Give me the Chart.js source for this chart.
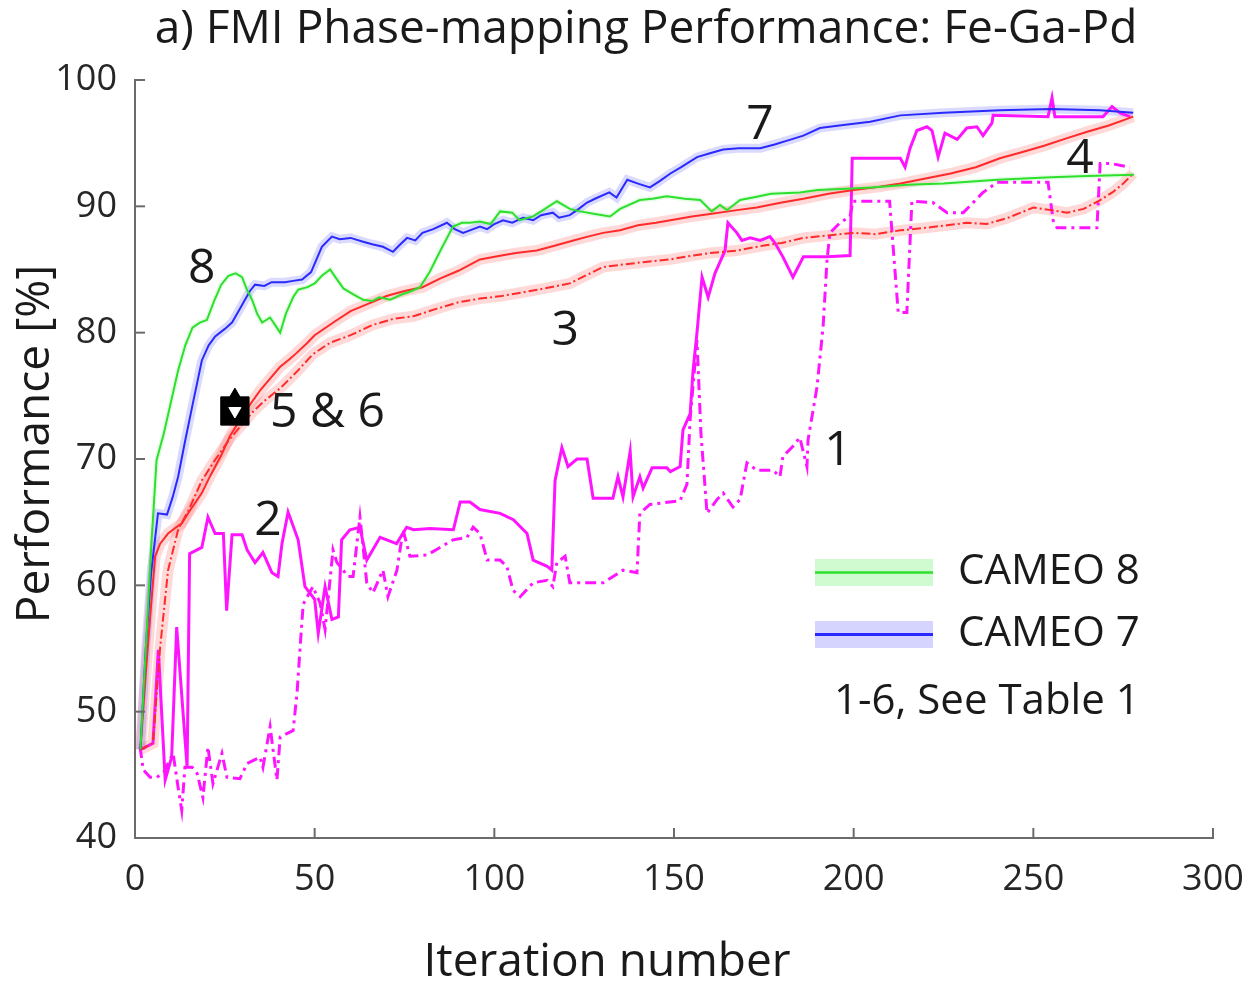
<!DOCTYPE html>
<html>
<head>
<meta charset="utf-8">
<script src="https://cdn.jsdelivr.net/npm/chart.js@4.4.1/dist/chart.umd.min.js"></script>
<style>
  body { margin: 0; background: #fff; }
  #wrap { width: 1251px; height: 983px; position: relative; }
</style>
</head>
<body>
<div id="wrap"><canvas id="lineChart"></canvas></div>
<script>
// values: [iteration, performance %]
var cameo8 = [[1.5,47],[3,55],[4.5,63],[6,69.9],[8,72],[10,74.5],[12,77],[14,79],[16,80.4],[18,80.8],[20,81],[22,82.5],[24,83.8],[26,84.5],[28,84.7],[29.8,84.4],[31,83.5],[32.6,82.6],[34,81.5],[35.4,80.8],[37.6,81.2],[39,80.6],[40.4,80],[42,81.5],[44,82.8],[45.4,83.4],[48,83.6],[50,83.9],[52,84.5],[54.3,85],[56,84.3],[58,83.5],[61,83],[63.5,82.6],[66,82.5],[68,82.8],[71,82.6],[74,83],[77,83.3],[79.3,83.6],[82,84.8],[85,86.5],[88.5,88.4],[91,88.7],[93.2,88.7],[96,88.8],[99,88.6],[101.6,89.6],[105,89.5],[107,88.9],[110.8,89.2],[113,89.6],[117.4,90.4],[121,89.8],[123.9,89.6],[128,89.4],[132.2,89.2],[135,89.8],[140.5,90.5],[144,90.6],[148,90.8],[153,90.6],[157.3,90.5],[160.5,89.6],[162.8,90.1],[164.8,89.7],[168.4,90.5],[172,90.7],[177,91],[185,91.1],[190,91.3],[198,91.4],[205,91.5],[215,91.7],[225,91.8],[240,92.1],[255,92.3],[265,92.4],[278,92.5]];

var cameo7 = [[1.5,47],[3,55],[4.5,61],[6.4,65.7],[8.9,65.6],[10.5,67],[12,68.6],[14,71.5],[16.1,74.4],[18.6,77.8],[20.5,79],[22.3,79.7],[25,80.3],[27,80.8],[29,81.8],[30.6,82.6],[32,83.3],[33.4,83.8],[36,83.7],[38,84],[41.7,84],[44,84.1],[46.5,84.2],[49,84.8],[52,86.8],[54.8,87.6],[57,87.4],[60,87.5],[63.5,87.2],[66,87],[69,86.8],[71.8,86.4],[73.5,86.9],[75.7,87.5],[78,87.3],[80,87.9],[83,88.2],[86.8,88.7],[89,88.2],[91.3,87.9],[93.2,88.1],[96,88.4],[98,88.2],[100,88.6],[102.4,88.9],[105,88.7],[108,89.1],[110.8,88.9],[113,89.3],[116.3,89.5],[118,89.1],[121,89.3],[123.5,89.8],[125.8,90.3],[128,90.6],[132,91.1],[134,90.7],[137,92.1],[140,91.8],[143.3,91.5],[146,92],[149,92.6],[152,93.1],[156.4,93.9],[160,94.2],[163.7,94.5],[168,94.6],[174,94.6],[178,94.9],[181.5,95.2],[186,95.6],[190.6,96.2],[196,96.4],[204.6,96.7],[213,97.2],[225,97.4],[240.7,97.6],[255,97.7],[268.6,97.6],[277.8,97.4]];

var run4 = [[1.5,47],[3,53],[4.5,58.5],[5.6,62.3],[7,63.3],[9.2,64.1],[11,64.5],[13,64.9],[15,65.8],[18.6,67.3],[21,68.7],[24,70.3],[26.4,71.8],[29,73],[32,74.3],[35,75.5],[38,76.5],[40.4,77.3],[43,77.9],[45,78.4],[48,79.2],[50,79.8],[55.7,80.9],[60,81.7],[65,82.3],[70,82.9],[75,83.3],[80,83.6],[85,84.3],[90,84.9],[96,85.8],[102,86.1],[106,86.3],[111.8,86.5],[117,86.9],[122,87.3],[126,87.6],[130.3,87.9],[135,88.1],[140,88.5],[145,88.7],[149,88.9],[155,89.2],[160,89.4],[167.5,89.7],[173,89.9],[180,90.3],[186,90.6],[193,91],[200,91.3],[206,91.5],[213,91.8],[220,92.2],[227,92.6],[234,93.1],[240.7,93.8],[247,94.3],[253,94.8],[259.4,95.4],[265,95.9],[271,96.4],[277.8,97.1]];

var run3 = [[1.5,47],[5,47.5],[7,55.1],[9.2,61.2],[12,64.4],[15,66],[18.6,68.3],[22,69.8],[26.4,71.6],[30.6,73],[33,73.8],[36,74.6],[40.4,75.6],[45,76.9],[49.5,78.3],[54.3,79.2],[60,79.8],[66,80.6],[72,81.1],[77.5,81.3],[84,81.9],[90,82.4],[96,82.7],[102,82.9],[108,83.2],[114,83.5],[121,83.9],[126,84.6],[130.3,85.2],[136,85.4],[142,85.6],[149,85.8],[155,86.1],[160,86.3],[167.5,86.5],[175,86.9],[180,87.1],[186,87.5],[193,87.7],[200,87.9],[206,87.8],[213,88.1],[220,88.3],[226,88.5],[231.5,88.7],[237,88.6],[243,89.1],[250,89.9],[255,89.7],[259.4,89.5],[264,89.8],[268.6,90.5],[272,91.1],[275,91.8],[277.8,92.6]];

var run2 = [[1.5,47],[5,47.5],[6.5,54.9],[8.4,44.6],[10.2,46.4],[11.6,56.7],[14.5,45.6],[15.2,62.5],[18.6,63],[20.3,65.4],[22.3,64.1],[24.6,64.1],[25.5,58],[27,64],[29.8,64],[31.2,62.8],[33.4,61.8],[35.6,62.6],[38.1,61],[39.8,60.7],[40.9,63.3],[42.6,65.8],[45.4,63.6],[47.3,59.9],[50,58.9],[51,56.2],[52.9,59.9],[54.8,57.3],[56.6,57.5],[57.5,63.6],[59.8,64.4],[62.6,64.6],[64.5,62],[68.2,63.8],[72.8,63.3],[75.6,64.6],[77.5,64.4],[82.1,64.5],[88.6,64.4],[90.5,66.6],[93.2,66.6],[96,66],[101.6,65.7],[105.3,65.2],[109.1,64.1],[110.8,62],[114.7,61.5],[116,61.2],[116.9,68.3],[118.8,70.9],[120.5,69.4],[123,70],[125.8,70],[127.5,66.9],[133,66.9],[134.4,68.6],[135.8,67],[137.8,70.6],[138.6,67],[140.5,68.6],[141.4,67.7],[143.9,69.3],[148,69.3],[149,69],[151.7,69.4],[152.5,72.3],[154.5,73.6],[155.3,77],[156.4,80],[157.8,84.4],[159.5,82.8],[161.4,84.7],[164.2,86.5],[165,88.7],[167.5,87.9],[168.9,87.3],[171.2,87.5],[174,87.3],[176.7,87.6],[178.1,87.1],[180.3,86],[183.1,84.4],[186,86],[188.7,86],[192.6,86],[199,86.1],[199.6,93.8],[213,93.8],[214.3,93.1],[215.7,94.6],[217.6,96],[220.4,96.3],[221.8,96],[223.5,93.9],[225.4,95.8],[228.8,95.3],[231.5,96.2],[234.3,96.3],[236,95.6],[238.5,96.6],[238.8,97.2],[254.1,97.1],[255.2,98.6],[256,97.1],[269.4,97.1],[271.9,97.9],[274.1,97.4],[276.9,97.1]];

var run1 = [[1.4,47.2],[2.3,45.4],[4.2,44.8],[6.1,44.8],[8,45.2],[10.6,46.7],[12,44],[13,42.2],[13.9,45.6],[15.9,45.6],[17.3,45.1],[18.9,43.2],[20.3,47.2],[21.7,44.3],[24.2,46.7],[25.6,44.8],[29.2,44.7],[31.2,45.9],[34.8,46.4],[35.6,45.6],[37.6,48.8],[39.5,44.6],[40.4,48],[44,48.5],[45.1,51.5],[45.9,54.9],[46.8,58.5],[49.5,59.9],[51.5,58.6],[52.9,56.5],[55.1,62.8],[56.2,61.8],[59.3,60.7],[60.7,60.7],[62.6,65.4],[63.5,63],[64.5,60.2],[66.2,59.4],[69,61.2],[70.4,59.1],[72.9,61.2],[74.6,64.4],[76.5,62.3],[81.3,62.4],[84.9,63],[88.5,63.6],[92.4,63.8],[94.1,64.6],[96,64.1],[98,62],[101.6,62],[103.5,61.5],[105.2,59.6],[107.2,59.1],[110.8,60.2],[114.7,60.4],[116.3,59.9],[117.4,61.8],[119.7,62.3],[121,60.2],[130.3,60.2],[135.8,61.2],[139.7,61],[140.5,65.7],[143.3,66.4],[151.7,66.7],[153.6,68],[154.5,73.2],[156.4,79.4],[157.5,72],[159.2,65.7],[162,66.8],[163.7,67.3],[166.4,66.2],[168.4,66.8],[170.3,69.7],[173.1,69.1],[177.6,69.1],[179.5,68.6],[180.3,70.2],[183.1,71],[185,71.7],[187,69.4],[187.3,71.5],[189.8,75.7],[191.5,80.5],[192.6,85.8],[193.4,87.9],[196.2,88.7],[199,89.2],[199.8,90.4],[210,90.4],[212.4,81.6],[214.8,81.6],[216.2,90.4],[222,90.3],[226,89.5],[230.5,89.5],[236,91.1],[239.9,91.9],[254.1,91.9],[255.5,88.9],[256.6,88.3],[267.7,88.3],[268.6,93.4],[271.4,93.4],[276.9,93.1]];

var marker56 = [[27.8,73.8]];
var marker56top = [[27.8,74.9]];

var xTicks = [0, 50, 100, 150, 200, 250, 300];
var yTicks = [40, 50, 60, 70, 80, 90, 100];

var noteText = ['8', '7', '4', '3', '2', '1', '5 & 6'];
var noteX = [18.6, 173.9, 263, 119.7, 37, 195.6, 37.6];
var noteY = [85, 96.4, 93.7, 80.1, 65.1, 70.6, 73.6];

var FONT = "'Open Sans', 'Noto Sans', sans-serif";

function pts(arr) {
    return arr.map(function(p) { return {x: p[0], y: p[1]}; });
}

function line(arr, color, width, dash, order) {
    return {
        data: pts(arr), borderColor: color, borderWidth: width,
        borderDash: dash || [], pointRadius: 0, tension: 0, fill: false, order: order
    };
}

// inward ticks, axis titles, notes and the legend box
var decor = {
    id: 'decor',
    afterDraw: function(chart) {
        var ctx = chart.ctx, xs = chart.scales.x, ys = chart.scales.y;
        var area = chart.chartArea;
        ctx.save();
        ctx.strokeStyle = '#6b6b6b';
        ctx.lineWidth = 2;
        xTicks.forEach(function(v) {
            var px = xs.getPixelForValue(v);
            ctx.beginPath(); ctx.moveTo(px, area.bottom); ctx.lineTo(px, area.bottom - 10); ctx.stroke();
        });
        yTicks.forEach(function(v) {
            var py = ys.getPixelForValue(v);
            ctx.beginPath(); ctx.moveTo(area.left, py); ctx.lineTo(area.left + 10, py); ctx.stroke();
        });

        ctx.fillStyle = '#1a1a1a';
        ctx.textBaseline = 'middle';
        ctx.textAlign = 'center';
        ctx.font = '46px ' + FONT;
        ctx.fillText('a) FMI Phase-mapping Performance: Fe-Ga-Pd', 646, 30);
        ctx.fillText('Iteration number', 607, 963);
        ctx.save();
        ctx.translate(36, 444);
        ctx.rotate(-Math.PI / 2);
        ctx.fillText('Performance [%]', 0, 0);
        ctx.restore();

        ctx.font = '48px ' + FONT;
        noteText.forEach(function(t, i) {
            ctx.textAlign = (t.length > 1) ? 'left' : 'center';
            ctx.fillText(t, xs.getPixelForValue(noteX[i]), ys.getPixelForValue(noteY[i]));
        });

        // legend
        ctx.fillStyle = 'rgba(40,230,40,0.22)';
        ctx.fillRect(815, 559, 118, 27);
        ctx.strokeStyle = '#2de02d'; ctx.lineWidth = 2.5;
        ctx.beginPath(); ctx.moveTo(815, 572.5); ctx.lineTo(933, 572.5); ctx.stroke();
        ctx.fillStyle = 'rgba(60,60,255,0.22)';
        ctx.fillRect(815, 621, 118, 27);
        ctx.strokeStyle = '#2a2aff'; ctx.lineWidth = 3;
        ctx.beginPath(); ctx.moveTo(815, 634.5); ctx.lineTo(933, 634.5); ctx.stroke();
        ctx.fillStyle = '#1a1a1a';
        ctx.textAlign = 'left';
        ctx.font = '42px ' + FONT;
        ctx.fillText('CAMEO 8', 958, 572);
        ctx.fillText('CAMEO 7', 958, 634);
        ctx.fillText('1-6, See Table 1', 834, 702);
        ctx.restore();
    }
};

var ctx = document.getElementById('lineChart');
var lineChart = new Chart(ctx, {
    type: 'line',
    data: {
        datasets: [
            line(cameo7, 'rgba(70,70,255,0.2)', 9, null, 20),
            line(run4, 'rgba(255,60,60,0.2)', 11, null, 20),
            line(run3, 'rgba(255,60,60,0.2)', 11, null, 20),
            line(cameo8, 'rgba(40,230,40,0.12)', 5, null, 20),
            line(run1, '#ff14ff', 3, [11, 5, 3, 5], 8),
            line(run2, '#ff14ff', 3, null, 7),
            line(run3, '#ff2a2a', 2, [9, 3, 2, 3], 5),
            line(run4, '#ff2a2a', 2, null, 4),
            line(cameo7, '#2a2aff', 2, null, 3),
            line(cameo8, '#2de02d', 2, null, 2),
            {
                data: pts(marker56top), pointStyle: 'triangle', pointRadius: 9, showLine: false,
                pointBackgroundColor: '#000', pointBorderColor: '#000', order: 1
            },
            {
                data: pts(marker56), pointStyle: 'rect', pointRadius: 20, showLine: false,
                pointBackgroundColor: '#000', pointBorderColor: '#000', order: 1
            },
            {
                data: pts(marker56), pointStyle: 'triangle', rotation: 180, pointRadius: 7, showLine: false,
                pointBackgroundColor: '#fff', pointBorderColor: '#fff', order: 0
            }
        ]
    },
    options: {
        responsive: true,
        maintainAspectRatio: false,
        animation: false,
        layout: { padding: { top: 80, right: 38, left: 0, bottom: 0 } },
        plugins: { legend: { display: false }, tooltip: { enabled: false }, title: { display: false } },
        scales: {
            x: {
                type: 'linear', min: 0, max: 300,
                afterFit: function(s) { s.height = 145; s.paddingLeft = 0; s.paddingRight = 0; },
                afterBuildTicks: function(s) { s.ticks = xTicks.map(function(v) { return {value: v}; }); },
                grid: { display: true, drawOnChartArea: false, drawTicks: false },
                border: { display: true, color: '#6b6b6b', width: 2 },
                ticks: { padding: 20, color: '#262626', font: { family: FONT, size: 36 }, maxRotation: 0 }
            },
            y: {
                min: 40, max: 100,
                afterFit: function(s) { s.width = 135; s.paddingTop = 0; s.paddingBottom = 0; },
                afterBuildTicks: function(s) { s.ticks = yTicks.map(function(v) { return {value: v}; }); },
                grid: { display: true, drawOnChartArea: false, drawTicks: false },
                border: { display: true, color: '#6b6b6b', width: 2 },
                ticks: { padding: 18, color: '#262626', font: { family: FONT, size: 36 } }
            }
        }
    },
    plugins: [decor]
});
</script>
</body>
</html>
